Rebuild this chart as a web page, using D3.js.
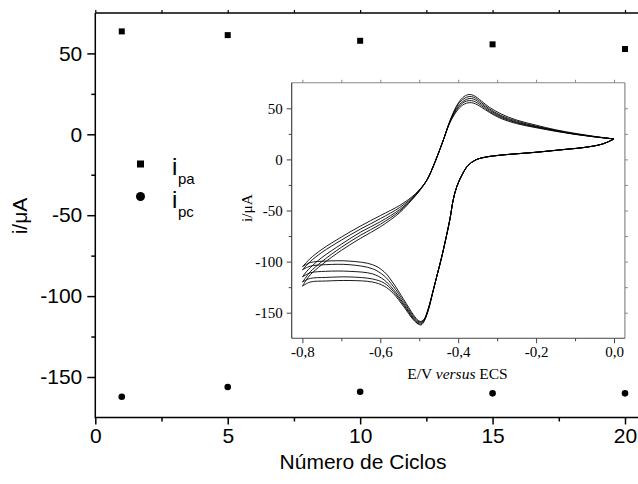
<!DOCTYPE html>
<html>
<head>
<meta charset="utf-8">
<script src="https://cdn.jsdelivr.net/npm/d3@7"></script>
<style>
  html, body { margin: 0; padding: 0; background: #fff; }
  svg { display: block; }
</style>
</head>
<body>
<svg id="chart" width="638" height="484"></svg>
<script>
// ---------- Main chart data ----------
const cycles = [1, 5, 10, 15, 20];
const ipa = [63.6, 61.3, 57.8, 55.6, 52.7];
const ipc = [-162.2, -156.2, -159.1, -160.1, -160.1];
const mainXTicks = [0, 5, 10, 15, 20];
const mainXMinor = [2.5, 7.5, 12.5, 17.5];
const mainYTicks = [-150, -100, -50, 0, 50];
const mainYMinor = [-125, -75, -25, 25];

// ---------- Inset (cyclic voltammograms, 5 cycles) ----------
const cathodicE = [0.0, -0.03, -0.08, -0.12, -0.2, -0.29, -0.33, -0.355, -0.375, -0.39, -0.404, -0.413, -0.421, -0.432, -0.442, -0.454, -0.464, -0.477, -0.487, -0.495, -0.503, -0.515, -0.54, -0.567, -0.59, -0.62, -0.68, -0.74, -0.78, -0.8];
const cathodicI1 = [20, 15, 11.5, 10, 7, 4.2, 2.2, -0.5, -6, -15, -27, -40, -58, -78, -95, -113, -128, -146, -156, -158.5, -157.5, -152, -137, -121, -110, -103, -99.5, -99.5, -101, -105];
const cathodicI2 = [20, 15, 11.5, 10, 7, 4.2, 2.2, -0.5, -6, -15, -27, -40, -58, -78, -95, -113, -128, -146.5, -156.5, -159, -158.5, -153.5, -139, -124, -114, -107, -103, -103, -104.5, -108];
const cathodicI3 = [20, 15, 11.5, 10, 7, 4.2, 2.2, -0.5, -6, -15, -27, -40, -58, -78, -95, -113, -128, -147, -157, -160, -159.5, -155, -141, -127, -118, -112, -109.5, -109.5, -111, -115];
const cathodicI4 = [20, 15, 11.5, 10, 7, 4.2, 2.2, -0.5, -6, -15, -27, -40, -58, -78, -95, -113, -128, -147.5, -157.5, -161, -160.5, -156, -142.5, -129, -121, -117, -115, -115.5, -116.5, -120];
const cathodicI5 = [20, 15, 11.5, 10, 7, 4.2, 2.2, -0.5, -6, -15, -27, -40, -58, -78, -95, -113, -128, -148, -158, -162, -161, -157, -144, -131, -124, -120, -118.5, -119, -120, -124];

const anodicE = [-0.8, -0.79, -0.78, -0.75, -0.7, -0.65, -0.6, -0.55, -0.52, -0.5, -0.48, -0.46, -0.44, -0.42, -0.4, -0.385, -0.372, -0.36, -0.34, -0.32, -0.29, -0.25, -0.2, -0.15, -0.1, -0.05, 0.0];
const anodicI1 = [-105, -101, -97, -88, -76, -65, -55, -45, -37, -30, -20, -3, 17, 39, 55, 61.5, 63.5, 62.5, 57, 51, 44.5, 38.5, 33.5, 29, 25.5, 22.5, 20];
const anodicI2 = [-108, -104, -100, -91, -79, -68, -58, -47, -38, -30, -20, -3, 17, 38.5, 54, 59.5, 61.5, 60.8, 55.5, 49.5, 43, 37.5, 32.5, 28.5, 25, 22.3, 20];
const anodicI3 = [-115, -110, -106, -96, -83, -71, -61, -49, -39, -30.5, -20, -3, 17, 38, 52, 57.5, 59.5, 59, 54, 48.3, 42, 36.5, 32, 28.2, 24.8, 22.2, 20];
const anodicI4 = [-120, -115, -110, -100, -86, -74, -63.5, -50.5, -39.5, -31, -20, -3, 17, 37.5, 50.5, 56, 57.5, 57, 52.5, 47, 41, 35.8, 31.5, 27.8, 24.6, 22.1, 20];
const anodicI5 = [-124, -118, -113, -103, -89, -77, -66, -52, -40, -31, -20, -3, 17, 37, 49, 54, 55.5, 55, 51, 46, 40, 35, 31, 27.5, 24.5, 22, 20];

const insetXTicks = [-0.8, -0.6, -0.4, -0.2, 0.0];
const insetXMinor = [-0.7, -0.5, -0.3, -0.1];
const insetYTicks = [-150, -100, -50, 0, 50];
const insetYMinor = [-125, -75, -25, 25];

const cathodicSeries = [cathodicI1, cathodicI2, cathodicI3, cathodicI4, cathodicI5];
const anodicSeries = [anodicI1, anodicI2, anodicI3, anodicI4, anodicI5];

// ---------- Drawing ----------
const svg = d3.select("#chart");
const sans = "'Liberation Sans', Arial, sans-serif";
const serif = "'Liberation Serif', 'Times New Roman', serif";
const hyphenFmt = d => String(d);

// main scales
const x = d3.scaleLinear().domain([0, 20]).range([95.3, 625]);
const y = d3.scaleLinear().domain([-150, 50]).range([377, 53.4]);
const frameL = x(0), frameR = 640, frameT = y(75), frameB = y(-175);

const main = svg.append("g");

// frame lines (left, top, bottom)
main.append("line").attr("x1", frameL).attr("x2", frameR).attr("y1", frameT).attr("y2", frameT)
  .attr("stroke", "#000").attr("stroke-width", 1.5);
main.append("line").attr("x1", frameL).attr("x2", frameR).attr("y1", frameB).attr("y2", frameB)
  .attr("stroke", "#000").attr("stroke-width", 1.5);
main.append("line").attr("x1", frameL).attr("x2", frameL).attr("y1", frameT).attr("y2", frameB + 0.75)
  .attr("stroke", "#000").attr("stroke-width", 1.5);

// bottom axis
const xAxis = d3.axisBottom(x).tickValues(mainXTicks).tickSize(7).tickPadding(4).tickFormat(hyphenFmt);
const gx = main.append("g").attr("transform", `translate(0,${frameB})`).call(xAxis);
gx.select(".domain").remove();
gx.selectAll(".tick line").attr("stroke-width", 1.5);
gx.selectAll("text").attr("font-family", sans).attr("font-size", 21).attr("fill", "#000");
main.append("g").attr("transform", `translate(0,${frameB})`)
  .call(d3.axisBottom(x).tickValues(mainXMinor).tickSize(4).tickFormat(""))
  .call(g => g.select(".domain").remove())
  .selectAll(".tick line").attr("stroke-width", 1.5);
// top axis ticks
main.append("g").attr("transform", `translate(0,${frameT})`)
  .call(d3.axisTop(x).tickValues(mainXTicks.concat(mainXMinor)).tickSize(3).tickFormat(""))
  .call(g => g.select(".domain").remove())
  .selectAll(".tick line").attr("stroke-width", 1.2);

// left axis
const yAxis = d3.axisLeft(y).tickValues(mainYTicks).tickSize(8).tickPadding(5).tickFormat(hyphenFmt);
const gy = main.append("g").attr("transform", `translate(${frameL},0)`).call(yAxis);
gy.select(".domain").remove();
gy.selectAll(".tick line").attr("stroke-width", 1.5);
gy.selectAll("text").attr("font-family", sans).attr("font-size", 21).attr("fill", "#000");
main.append("g").attr("transform", `translate(${frameL},0)`)
  .call(d3.axisLeft(y).tickValues(mainYMinor).tickSize(4).tickFormat(""))
  .call(g => g.select(".domain").remove())
  .selectAll(".tick line").attr("stroke-width", 1.5);

// axis titles
main.append("text").attr("x", 363).attr("y", 469).attr("text-anchor", "middle")
  .attr("font-family", sans).attr("font-size", 21).text("Número de Ciclos");
main.append("text").attr("transform", "translate(27,216) rotate(-90)").attr("text-anchor", "middle")
  .attr("font-family", sans).attr("font-size", 21).text("i/μA");

// data points
main.selectAll("rect.ipa").data(cycles).join("rect").attr("class", "ipa")
  .attr("x", (d) => x(d) - 3).attr("y", (d, i) => y(ipa[i]) - 3)
  .attr("width", 6).attr("height", 6).attr("fill", "#000");
main.selectAll("circle.ipc").data(cycles).join("circle").attr("class", "ipc")
  .attr("cx", (d) => x(d)).attr("cy", (d, i) => y(ipc[i])).attr("r", 3.3).attr("fill", "#000");

// legend
const leg = main.append("g");
leg.append("rect").attr("x", 137).attr("y", 160.5).attr("width", 7).attr("height", 7).attr("fill", "#000");
leg.append("circle").attr("cx", 140.5).attr("cy", 196.5).attr("r", 4.5).attr("fill", "#000");
const t1 = leg.append("text").attr("x", 172).attr("y", 175).attr("font-family", sans).attr("font-size", 24);
t1.append("tspan").text("i");
t1.append("tspan").attr("x", 178).attr("y", 184).attr("font-size", 15).text("pa");
const t2 = leg.append("text").attr("x", 172).attr("y", 207.5).attr("font-family", sans).attr("font-size", 24);
t2.append("tspan").text("i");
t2.append("tspan").attr("x", 178).attr("y", 216.5).attr("font-size", 15).text("pc");

// ---------- Inset ----------
const ix = d3.scaleLinear().domain([-0.8, 0.0]).range([302.4, 614]);
const iy = d3.scaleLinear().domain([-150, 50]).range([312.7, 108.3]);
const iL = ix(-0.8275), iR = ix(0.028), iT = iy(75), iB = iy(-175);

const inset = svg.append("g");
inset.append("rect").attr("x", iL).attr("y", iT).attr("width", iR - iL).attr("height", iB - iT)
  .attr("fill", "#fff");

// top/right frame (grey)
inset.append("line").attr("x1", iL).attr("x2", iR).attr("y1", iT).attr("y2", iT).attr("stroke", "#888").attr("stroke-width", 1);
inset.append("line").attr("x1", iR).attr("x2", iR).attr("y1", iT).attr("y2", iB).attr("stroke", "#888").attr("stroke-width", 1.2);
inset.append("g").attr("transform", `translate(0,${iT})`)
  .call(d3.axisTop(ix).tickValues(insetXTicks.concat(insetXMinor)).tickSize(3).tickFormat(""))
  .call(g => g.select(".domain").remove())
  .selectAll(".tick line").attr("stroke", "#888");
inset.append("g").attr("transform", `translate(${iR},0)`)
  .call(d3.axisRight(iy).tickValues(insetYTicks.concat(insetYMinor)).tickSize(3).tickFormat(""))
  .call(g => g.select(".domain").remove())
  .selectAll(".tick line").attr("stroke", "#888");

// curves
const line = d3.line().x(d => ix(d[0])).y(d => iy(d[1])).curve(d3.curveCatmullRom.alpha(0.5));
const curveG = inset.append("g").attr("fill", "none").attr("stroke", "#000").attr("stroke-width", 0.9);
cathodicSeries.forEach(ser => {
  curveG.append("path").attr("d", line(cathodicE.map((e, k) => [e, ser[k]])));
});
anodicSeries.forEach(ser => {
  curveG.append("path").attr("d", line(anodicE.map((e, k) => [e, ser[k]])));
});

// left/bottom frame (dark)
inset.append("line").attr("x1", iL).attr("x2", iL).attr("y1", iT).attr("y2", iB).attr("stroke", "#444").attr("stroke-width", 1.2);
inset.append("line").attr("x1", iL).attr("x2", iR).attr("y1", iB).attr("y2", iB).attr("stroke", "#444").attr("stroke-width", 1.2);

const fmtComma = d => d3.format(".1f")(d).replace(".", ",").replace("−", "-");
const gix = inset.append("g").attr("transform", `translate(0,${iB})`)
  .call(d3.axisBottom(ix).tickValues(insetXTicks).tickSize(5).tickPadding(3).tickFormat(fmtComma));
gix.select(".domain").remove();
gix.selectAll(".tick line").attr("stroke", "#444");
gix.selectAll("text").attr("font-family", serif).attr("font-size", 15).attr("fill", "#000");
inset.append("g").attr("transform", `translate(0,${iB})`)
  .call(d3.axisBottom(ix).tickValues(insetXMinor).tickSize(3).tickFormat(""))
  .call(g => g.select(".domain").remove())
  .selectAll(".tick line").attr("stroke", "#444");

const giy = inset.append("g").attr("transform", `translate(${iL},0)`)
  .call(d3.axisLeft(iy).tickValues(insetYTicks).tickSize(5).tickPadding(4).tickFormat(hyphenFmt));
giy.select(".domain").remove();
giy.selectAll(".tick line").attr("stroke", "#444");
giy.selectAll("text").attr("font-family", serif).attr("font-size", 15).attr("fill", "#000");
inset.append("g").attr("transform", `translate(${iL},0)`)
  .call(d3.axisLeft(iy).tickValues(insetYMinor).tickSize(3).tickFormat(""))
  .call(g => g.select(".domain").remove())
  .selectAll(".tick line").attr("stroke", "#444");

// inset titles
const xl = inset.append("text").attr("x", 457.5).attr("y", 379).attr("text-anchor", "middle")
  .attr("font-family", serif).attr("font-size", 15.5);
xl.append("tspan").text("E/V ");
xl.append("tspan").attr("font-style", "italic").text("versus");
xl.append("tspan").text(" ECS");
inset.append("text").attr("transform", "translate(252,208) rotate(-90)").attr("text-anchor", "middle")
  .attr("font-family", serif).attr("font-size", 15.5).text("i/μA");
</script>
</body>
</html>
